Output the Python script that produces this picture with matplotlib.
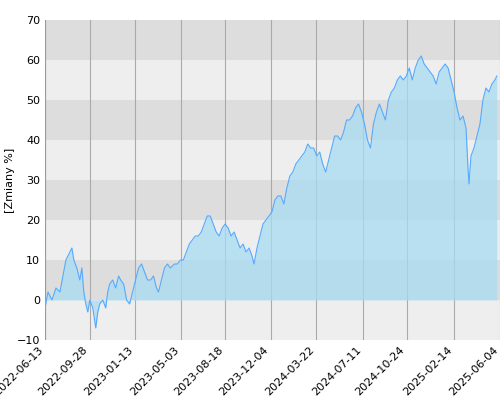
import matplotlib
matplotlib.use("Agg")
import matplotlib.pyplot as plt
import pandas as pd
import numpy as np

start = pd.Timestamp("2022-06-13")
# x pixel positions (45 px = 107 days) and values
px = [45,48,52,56,60,63,66,70,72,74,77,80,82,84,86,88,90,93,96,98,100,103,106,108,110,113,116,119,121,124,127,130,133,136,139,142,145,148,151,154,157,159,162,165,168,171,175,178,181,184,187,190,193,196,199,202,205,208,211,214,217,220,223,226,229,232,235,238,241,244,247,250,253,255,258,261,264,267,270,273,276,279,282,285,288,291,294,297,300,303,306,309,312,315,318,321,324,327,330,333,336,339,342,345,348,351,354,357,360,363,366,369,372,375,378,381,384,387,390,393,396,399,402,405,408,411,414,417,420,423,426,429,432,435,438,441,444,447,450,453,456,459,462,465,468,470,471,473,476,479,482,485,488,491,494,497,499]
values = [-2,2,0,3,2,6,10,12,13,10,8,5,8,2,-1,-3,0,-2,-7,-3,-1,0,-2,2,4,5,3,6,5,4,0,-1,2,5,8,9,7,5,5,6,3,2,5,8,9,8,9,9,10,10,12,14,15,16,16,17,19,21,21,19,17,16,18,19,18,16,17,15,13,14,12,13,11,9,13,16,19,20,21,22,25,26,26,24,28,31,32,34,35,36,37,39,38,38,36,37,34,32,35,38,41,41,40,42,45,45,46,48,49,47,44,40,38,44,47,49,47,45,50,52,53,55,56,55,56,58,55,58,60,61,59,58,57,56,54,57,58,59,58,55,52,48,45,46,43,33,29,36,38,41,44,50,53,52,54,55,56]
tick_labels = ["2022-06-13","2022-09-28","2023-01-13","2023-05-03","2023-08-18","2023-12-04","2024-03-22","2024-07-11","2024-10-24","2025-02-14","2025-06-04"]

dates = [start + pd.Timedelta(days=(p-45)/45*107) for p in px]
ticks = pd.to_datetime(tick_labels)

fig = plt.figure(figsize=(5,4), dpi=100)
ax = fig.add_axes([0.09, 0.15, 0.91, 0.80])
for i, lo in enumerate(range(-10, 70, 10)):
    ax.axhspan(lo, lo+10, color="#eeeeee" if i % 2 == 0 else "#dddddd", zorder=0, lw=0)
for t in ticks:
    ax.axvline(t, color="#aaaaaa", lw=0.8, zorder=1)
ax.fill_between(dates, values, 0, color="#a8dcf2", alpha=0.75, zorder=2, lw=0)
ax.plot(dates, values, color="#55aaff", lw=0.8, zorder=3)
ax.set_ylim(-10, 70)
ax.set_xlim(start, start + pd.Timedelta(days=(500-45)/45*107))
ax.set_yticks(range(-10, 71, 10))
ax.set_xticks(ticks)
ax.set_xticklabels(tick_labels, rotation=45, ha="right", fontsize=8)
ax.tick_params(axis="y", labelsize=8, length=0)
ax.tick_params(axis="x", length=0)
ax.set_ylabel("[Zmiany %]", fontsize=8, labelpad=1)
for s in ax.spines.values():
    s.set_visible(False)
ax.axvline(start, color="#999999", lw=0.8, zorder=1)
fig.savefig("out.png")
